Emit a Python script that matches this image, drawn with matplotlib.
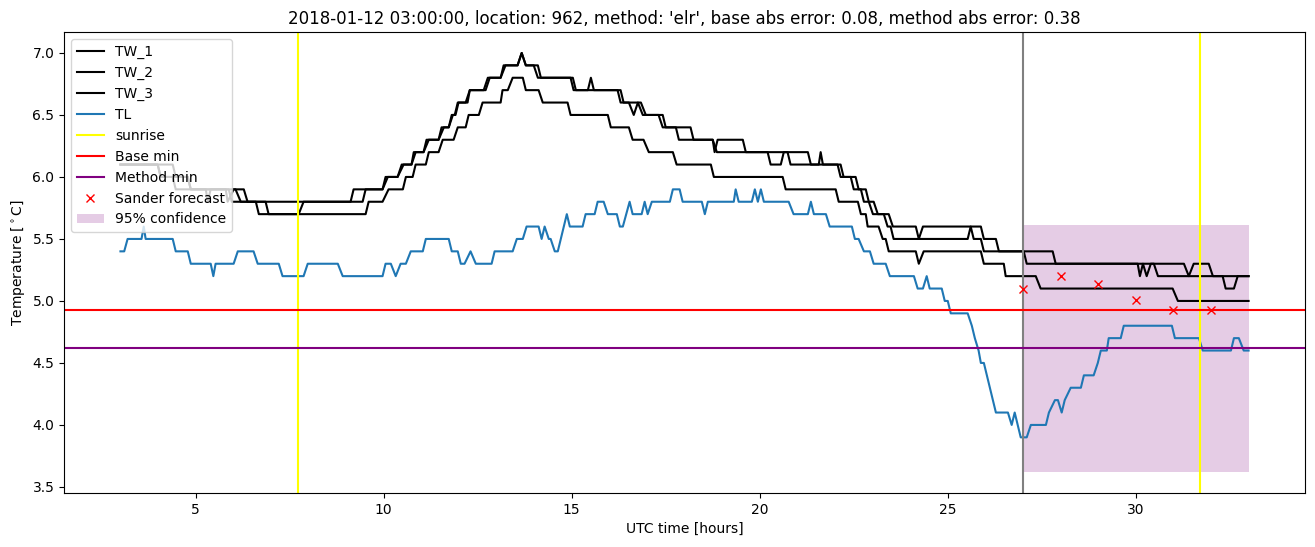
import matplotlib
matplotlib.use("Agg")
import matplotlib.pyplot as plt

# vertices (hour, value) of the station traces
tw1_hours = [3.0, 4.39, 4.47, 4.79, 4.87, 5.27, 5.32, 5.40, 5.80, 5.85, 6.01, 6.28, 6.38, 9.12,
             9.20, 9.97, 10.05, 10.37, 10.48, 10.74, 10.80, 11.06, 11.14, 11.46, 11.54, 11.73,
             11.81, 11.89, 11.97, 12.23, 12.29, 12.71, 12.82, 13.11, 13.19, 13.56, 13.67, 13.78,
             14.10, 14.18, 14.97, 15.05, 16.22, 16.30, 16.52, 16.65, 16.76, 16.89, 17.31, 17.42,
             17.77, 17.85, 18.75, 18.86, 20.21, 20.29, 20.56, 20.64, 20.74, 20.82, 22.07, 22.15,
             22.42, 22.50, 22.69, 22.77, 22.90, 23.01, 23.43, 23.54, 24.15, 24.23, 24.34, 25.88,
             25.96, 26.28, 26.36, 27.79, 27.87, 30.05, 30.11, 30.19, 30.29, 30.40, 31.28, 31.41,
             31.54, 31.94, 32.05, 32.31, 32.39, 32.61, 32.71, 33.0]
tw1_values = [6.1, 6.1, 6.0, 6.0, 5.9, 5.9, 5.8, 5.9, 5.9, 5.8, 5.9, 5.9, 5.8, 5.8,
              5.9, 5.9, 6.0, 6.0, 6.1, 6.1, 6.2, 6.2, 6.3, 6.3, 6.4, 6.4,
              6.5, 6.5, 6.6, 6.6, 6.7, 6.7, 6.8, 6.8, 6.9, 6.9, 7.0, 6.9,
              6.9, 6.8, 6.8, 6.7, 6.7, 6.6, 6.6, 6.5, 6.6, 6.5, 6.5, 6.4,
              6.4, 6.3, 6.3, 6.2, 6.2, 6.1, 6.1, 6.2, 6.2, 6.1, 6.1, 6.0,
              6.0, 5.9, 5.9, 5.8, 5.8, 5.7, 5.7, 5.6, 5.6, 5.5, 5.6, 5.6,
              5.5, 5.5, 5.4, 5.4, 5.3, 5.3, 5.2, 5.3, 5.2, 5.3, 5.3, 5.2,
              5.3, 5.3, 5.2, 5.2, 5.1, 5.1, 5.2, 5.2]

tw2_hours = [3.0, 3.99, 4.07, 4.39, 4.47, 5.88, 5.96, 6.60, 6.68, 7.74, 7.87, 9.44, 9.52, 9.97,
             10.11, 10.37, 10.53, 10.74, 10.85, 11.06, 11.20, 11.46, 11.60, 11.73, 11.84, 11.91,
             11.99, 12.18, 12.29, 12.66, 12.77, 13.11, 13.24, 13.56, 13.67, 13.78, 13.99, 14.10,
             15.03, 15.11, 15.43, 15.51, 15.59, 16.30, 16.38, 16.84, 16.97, 17.42, 17.50, 18.16,
             18.24, 18.75, 18.80, 18.88, 19.55, 19.63, 21.28, 21.36, 21.57, 21.62, 21.68, 22.15,
             22.23, 22.55, 22.63, 22.82, 22.90, 23.03, 23.14, 23.30, 23.40, 23.48, 23.56, 25.53,
             25.61, 25.69, 25.88, 25.96, 27.02, 27.10, 30.48, 30.59, 33.0]
tw2_values = [6.1, 6.1, 6.0, 6.0, 5.9, 5.9, 5.8, 5.8, 5.7, 5.7, 5.8, 5.8, 5.9, 5.9,
              6.0, 6.0, 6.1, 6.1, 6.2, 6.2, 6.3, 6.3, 6.4, 6.4, 6.5, 6.5,
              6.6, 6.6, 6.7, 6.7, 6.8, 6.8, 6.9, 6.9, 7.0, 6.9, 6.9, 6.8,
              6.8, 6.7, 6.7, 6.8, 6.7, 6.7, 6.6, 6.6, 6.5, 6.5, 6.4, 6.4,
              6.3, 6.3, 6.2, 6.3, 6.3, 6.2, 6.2, 6.1, 6.1, 6.2, 6.1, 6.1,
              6.0, 6.0, 5.9, 5.9, 5.8, 5.8, 5.7, 5.7, 5.6, 5.6, 5.5, 5.5,
              5.6, 5.5, 5.5, 5.4, 5.4, 5.3, 5.3, 5.2, 5.2]

tw3_hours = [3.0, 3.99, 4.07, 4.79, 4.87, 6.06, 6.20, 6.86, 6.94, 9.52, 9.60, 9.97, 10.13, 10.51,
             10.59, 10.77, 10.85, 11.12, 11.20, 11.46, 11.57, 11.86, 11.97, 12.18, 12.26, 12.53,
             12.63, 13.11, 13.16, 13.30, 13.43, 13.70, 13.78, 14.12, 14.23, 14.89, 14.97, 15.96,
             16.04, 16.52, 16.62, 16.91, 17.05, 17.69, 17.79, 18.70, 18.78, 20.61, 20.69, 22.02,
             22.10, 22.61, 22.69, 22.82, 22.87, 23.16, 23.27, 23.35, 23.43, 24.15, 24.23, 24.36,
             25.88, 25.96, 26.49, 26.54, 27.34, 27.47, 30.98, 31.12, 33.0]
tw3_values = [6.1, 6.1, 6.0, 6.0, 5.9, 5.9, 5.8, 5.8, 5.7, 5.7, 5.8, 5.8, 5.9, 5.9,
              6.0, 6.0, 6.1, 6.1, 6.2, 6.2, 6.3, 6.3, 6.4, 6.4, 6.5, 6.5,
              6.6, 6.6, 6.7, 6.7, 6.8, 6.8, 6.7, 6.7, 6.6, 6.6, 6.5, 6.5,
              6.4, 6.4, 6.3, 6.3, 6.2, 6.2, 6.1, 6.1, 6.0, 6.0, 5.9, 5.9,
              5.8, 5.8, 5.7, 5.7, 5.6, 5.6, 5.5, 5.5, 5.4, 5.4, 5.3, 5.4,
              5.4, 5.3, 5.3, 5.2, 5.2, 5.1, 5.1, 5.0, 5.0]

tl_hours = [3.0, 3.1, 3.19, 3.56, 3.62, 3.67, 4.39, 4.47, 4.79, 4.87, 5.40, 5.47, 5.53, 6.01,
            6.12, 6.54, 6.65, 7.21, 7.31, 7.87, 7.98, 8.78, 8.91, 9.97, 10.05, 10.19, 10.32,
            10.45, 10.59, 10.72, 11.04, 11.12, 11.73, 11.81, 11.97, 12.05, 12.15, 12.31, 12.45,
            12.87, 12.95, 13.43, 13.54, 13.70, 13.80, 14.12, 14.20, 14.28, 14.39, 14.44, 14.55,
            14.63, 14.87, 14.95, 15.29, 15.37, 15.61, 15.69, 15.85, 15.96, 16.20, 16.28, 16.36,
            16.54, 16.62, 16.86, 16.94, 17.02, 17.13, 17.61, 17.69, 17.87, 17.95, 18.46, 18.54,
            18.62, 19.31, 19.36, 19.44, 19.79, 19.87, 19.95, 20.03, 20.11, 20.77, 20.90, 21.28,
            21.36, 21.44, 21.76, 21.86, 22.45, 22.53, 22.63, 22.77, 22.93, 23.03, 23.35, 23.46,
            24.10, 24.20, 24.34, 24.44, 24.52, 24.84, 24.92, 25.00, 25.08, 25.53, 25.64, 25.72,
            25.82, 25.88, 25.96, 26.04, 26.12, 26.20, 26.28, 26.60, 26.70, 26.78, 26.94, 27.10,
            27.21, 27.61, 27.69, 27.85, 27.93, 28.03, 28.11, 28.27, 28.54, 28.62, 28.88, 28.99,
            29.07, 29.23, 29.28, 29.60, 29.68, 30.96, 31.04, 31.68, 31.78, 32.53, 32.61, 32.74,
            32.87, 33.0]
tl_values = [5.4, 5.4, 5.5, 5.5, 5.6, 5.5, 5.5, 5.4, 5.4, 5.3, 5.3, 5.2, 5.3, 5.3,
             5.4, 5.4, 5.3, 5.3, 5.2, 5.2, 5.3, 5.3, 5.2, 5.2, 5.3, 5.3, 5.2,
             5.3, 5.3, 5.4, 5.4, 5.5, 5.5, 5.4, 5.4, 5.3, 5.3, 5.4, 5.3,
             5.3, 5.4, 5.4, 5.5, 5.5, 5.6, 5.6, 5.5, 5.6, 5.5, 5.5, 5.4,
             5.4, 5.7, 5.6, 5.6, 5.7, 5.7, 5.8, 5.8, 5.7, 5.7, 5.6, 5.6,
             5.8, 5.7, 5.7, 5.8, 5.7, 5.8, 5.8, 5.9, 5.9, 5.8, 5.8, 5.7,
             5.8, 5.8, 5.9, 5.8, 5.8, 5.9, 5.8, 5.9, 5.8, 5.8, 5.7, 5.7,
             5.8, 5.7, 5.7, 5.6, 5.6, 5.5, 5.5, 5.4, 5.4, 5.3, 5.3, 5.2,
             5.2, 5.1, 5.1, 5.2, 5.1, 5.1, 5.0, 5.0, 4.9, 4.9, 4.8, 4.7,
             4.6, 4.5, 4.5, 4.4, 4.3, 4.2, 4.1, 4.1, 4.0, 4.1, 3.9, 3.9,
             4.0, 4.0, 4.1, 4.2, 4.2, 4.1, 4.2, 4.3, 4.3, 4.4, 4.4, 4.5,
             4.6, 4.6, 4.7, 4.7, 4.8, 4.8, 4.7, 4.7, 4.6, 4.6, 4.7, 4.7,
             4.6, 4.6]

sunrise_hours = [7.73, 31.70]
forecast_time = 27
base_min = 4.93
method_min = 4.62

sander_hours = [27, 28, 29, 30, 31, 32]
sander_values = [5.10, 5.20, 5.14, 5.01, 4.93, 4.93]

conf_hours = [27, 33]
conf_low = 3.62
conf_high = 5.61

fig = plt.figure(figsize=(13.15, 5.47), dpi=100)
ax = fig.add_axes([0.0487, 0.0987, 0.9437, 0.8428])

ax.plot(tw1_hours, tw1_values, color='black', label='TW_1')
ax.plot(tw2_hours, tw2_values, color='black', label='TW_2')
ax.plot(tw3_hours, tw3_values, color='black', label='TW_3')
ax.plot(tl_hours, tl_values, label='TL')
for i, h in enumerate(sunrise_hours):
    ax.axvline(h, color='yellow', label='sunrise' if i == 0 else None)
ax.axvline(forecast_time, color='grey')
ax.axhline(base_min, color='red', label='Base min')
ax.axhline(method_min, color='purple', label='Method min')
ax.plot(sander_hours, sander_values, 'rx', label='Sander forecast')
ax.fill_between(conf_hours, conf_low, conf_high, color='purple', alpha=0.2,
                linewidth=0, label='95% confidence')

ax.set_title("2018-01-12 03:00:00, location: 962, method: 'elr', "
             "base abs error: 0.08, method abs error: 0.38")
ax.set_xlabel('UTC time [hours]')
ax.set_ylabel(r'Temperature [$^\circ$C]')
ax.legend(loc='upper left')

fig.savefig('out.png', dpi=100)
